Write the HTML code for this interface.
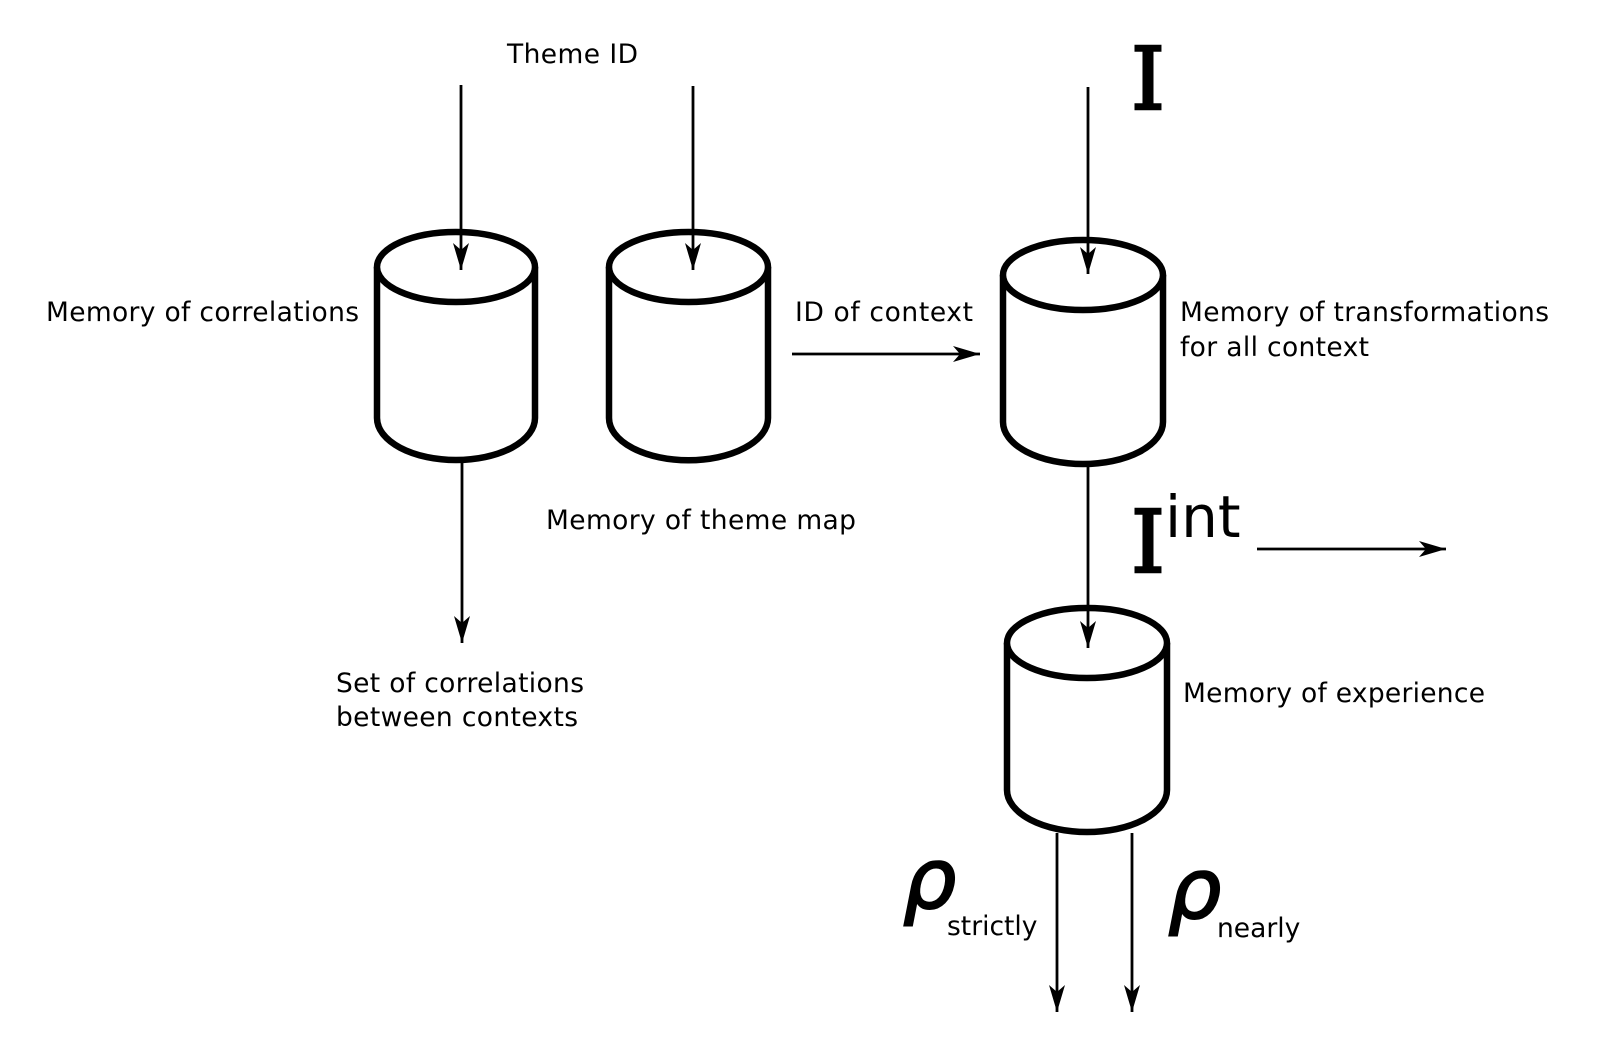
<!DOCTYPE html>
<html><head><meta charset="utf-8"><style>html,body{margin:0;padding:0;background:#fff}svg{display:block}</style></head>
<body>
<svg width="1600" height="1057" viewBox="0 0 1600 1057" xmlns="http://www.w3.org/2000/svg">
<defs>
<marker id="a" viewBox="0 0 30 20" refX="27" refY="10" markerWidth="30" markerHeight="20" markerUnits="userSpaceOnUse" orient="auto">
<path d="M0,2 L27,10 L0,18 L7,10 Z" fill="#000"/>
</marker>
</defs>
<g fill="#fff" stroke="#000" stroke-width="6.5">
<path d="M377,267 L377,418 A79,42 0 0 0 535,418 L535,267"/>
<ellipse cx="456" cy="267" rx="79" ry="35"/>
<path d="M609,267 L609,418 A79,42 0 0 0 768,418 L768,267"/>
<ellipse cx="688.5" cy="267" rx="79.5" ry="35"/>
<path d="M1003,275 L1003,422 A80,42 0 0 0 1163,422 L1163,275"/>
<ellipse cx="1083" cy="275" rx="80" ry="35"/>
<path d="M1007,643 L1007,790 A80,42 0 0 0 1167,790 L1167,643"/>
<ellipse cx="1087" cy="643" rx="80" ry="35"/>
</g>
<g stroke="#000" stroke-width="2.8" marker-end="url(#a)" fill="none">
<line x1="461" y1="85" x2="461" y2="270"/>
<line x1="693" y1="86" x2="693" y2="270"/>
<line x1="1088" y1="87" x2="1088" y2="274"/>
<line x1="462" y1="461" x2="462" y2="643"/>
<line x1="792" y1="354" x2="980" y2="354"/>
<line x1="1088" y1="466" x2="1088" y2="648"/>
<line x1="1257" y1="549" x2="1446" y2="549"/>
<line x1="1057" y1="833" x2="1057" y2="1012"/>
<line x1="1132" y1="833" x2="1132" y2="1012"/>
</g>
<g font-family="'DejaVu Sans', 'Liberation Sans', sans-serif" font-size="26.5" fill="#000">
<text x="507" y="63" textLength="131">Theme ID</text>
<text x="46" y="321" textLength="313">Memory of correlations</text>
<text x="795" y="321" textLength="178">ID of context</text>
<text x="1180" y="321" textLength="369">Memory of transformations</text>
<text x="1180" y="356" textLength="189">for all context</text>
<text x="546" y="529" textLength="310">Memory of theme map</text>
<text x="336" y="692" textLength="248">Set of correlations</text>
<text x="336" y="726" textLength="242">between contexts</text>
<text x="1183" y="702" textLength="302">Memory of experience</text>
</g>
<g font-family="'DejaVu Serif', serif" font-size="86" fill="#000" stroke="#000" stroke-width="2.5">
<text x="1131" y="109">I</text>
<text x="1131" y="572">I</text>
</g>
<text x="1165" y="537" font-family="'DejaVu Sans', sans-serif" font-size="58" fill="#000">int</text>
<g font-family="'DejaVu Sans', sans-serif" font-style="italic" font-size="84" fill="#000" stroke="#000" stroke-width="2">
<text x="903" y="908">ρ</text>
<text x="1168" y="918">ρ</text>
</g>
<text x="947" y="935" font-family="'DejaVu Sans', sans-serif" font-size="26.5" fill="#000">strictly</text>
<text x="1217" y="937" font-family="'DejaVu Sans', sans-serif" font-size="26.5" fill="#000">nearly</text>
</svg>
</body></html>
